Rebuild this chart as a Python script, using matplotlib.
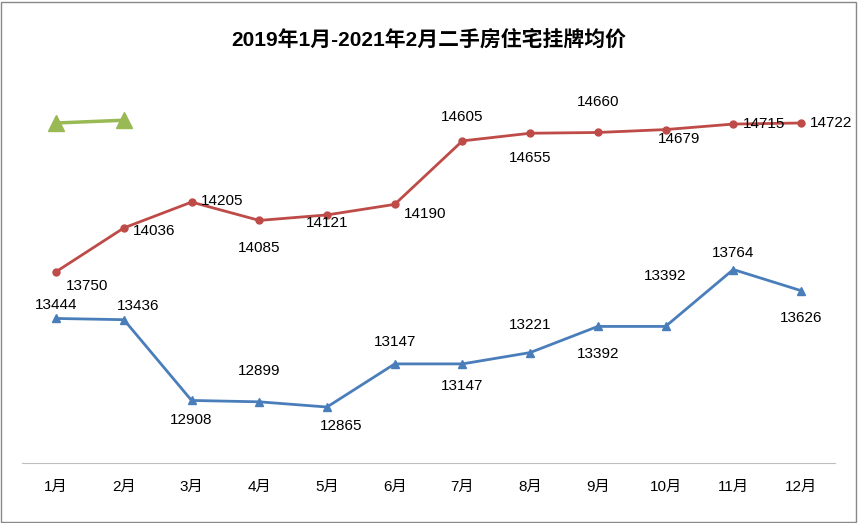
import matplotlib.pyplot as plt

plt.rcParams['font.family'] = ['Liberation Sans', 'Noto Sans CJK SC', 'DejaVu Sans']

months = ['1月', '2月', '3月', '4月', '5月', '6月', '7月', '8月', '9月', '10月', '11月', '12月']
y2019 = [13444, 13436, 12908, 12899, 12865, 13147, 13147, 13221, 13392, 13392, 13764, 13626]
y2020 = [13750, 14036, 14205, 14085, 14121, 14190, 14605, 14655, 14660, 14679, 14715, 14722]
y2021 = [14722, 14740]

# label offsets in points (dx, dy)
off2019 = [(0, 10), (10, 10), (0, -14), (0, 22), (10, -14), (0, 16), (0, -16), (0, 20), (0, -20), (0, 36), (0, 12), (0, -20)]
off2020 = [(22, -10), (22, -2), (22, 1), (0, -20), (0, -6), (22, -7), (0, 17), (0, -18), (0, 22), (10, -7), (22, 0), (22, 0)]

fig = plt.figure(figsize=(8.58, 5.23), dpi=100)
ax = fig.add_axes([0.026, 0.115, 0.947, 0.775])
x = range(len(months))
ax.plot(x, y2019, color='#4a7ebb', lw=2, marker='^', ms=6)
ax.plot(x, y2020, color='#be4b48', lw=2, marker='o', ms=5)
ax.plot(range(len(y2021)), y2021, color='#98b954', lw=2.5, marker='^', ms=11)
for i, v in enumerate(y2019):
    ax.annotate(str(v), (i, v), xytext=off2019[i], textcoords='offset points',
                ha='center', va='center', fontsize=11)
for i, v in enumerate(y2020):
    ax.annotate(str(v), (i, v), xytext=off2020[i], textcoords='offset points',
                ha='center', va='center', fontsize=11)

ax.set_xlim(-0.5, 11.5)
ax.set_ylim(12500, 15150)
ax.set_xticks(list(x))
ax.set_xticklabels(months, fontsize=11)
ax.tick_params(axis='x', length=0, pad=12)
ax.set_yticks([])
for s in ['top', 'left', 'right']:
    ax.spines[s].set_visible(False)
ax.spines['bottom'].set_color('#bfbfbf')

fig.text(0.5, 0.925, '2019年1月-2021年2月二手房住宅挂牌均价', ha='center', va='center',
         fontsize=15, fontweight='bold')
fig.patches.append(plt.Rectangle((0.001, 0.002), 0.997, 0.995, transform=fig.transFigure,
                                 fill=False, ec='#888888', lw=1))
fig.savefig('out.png')
